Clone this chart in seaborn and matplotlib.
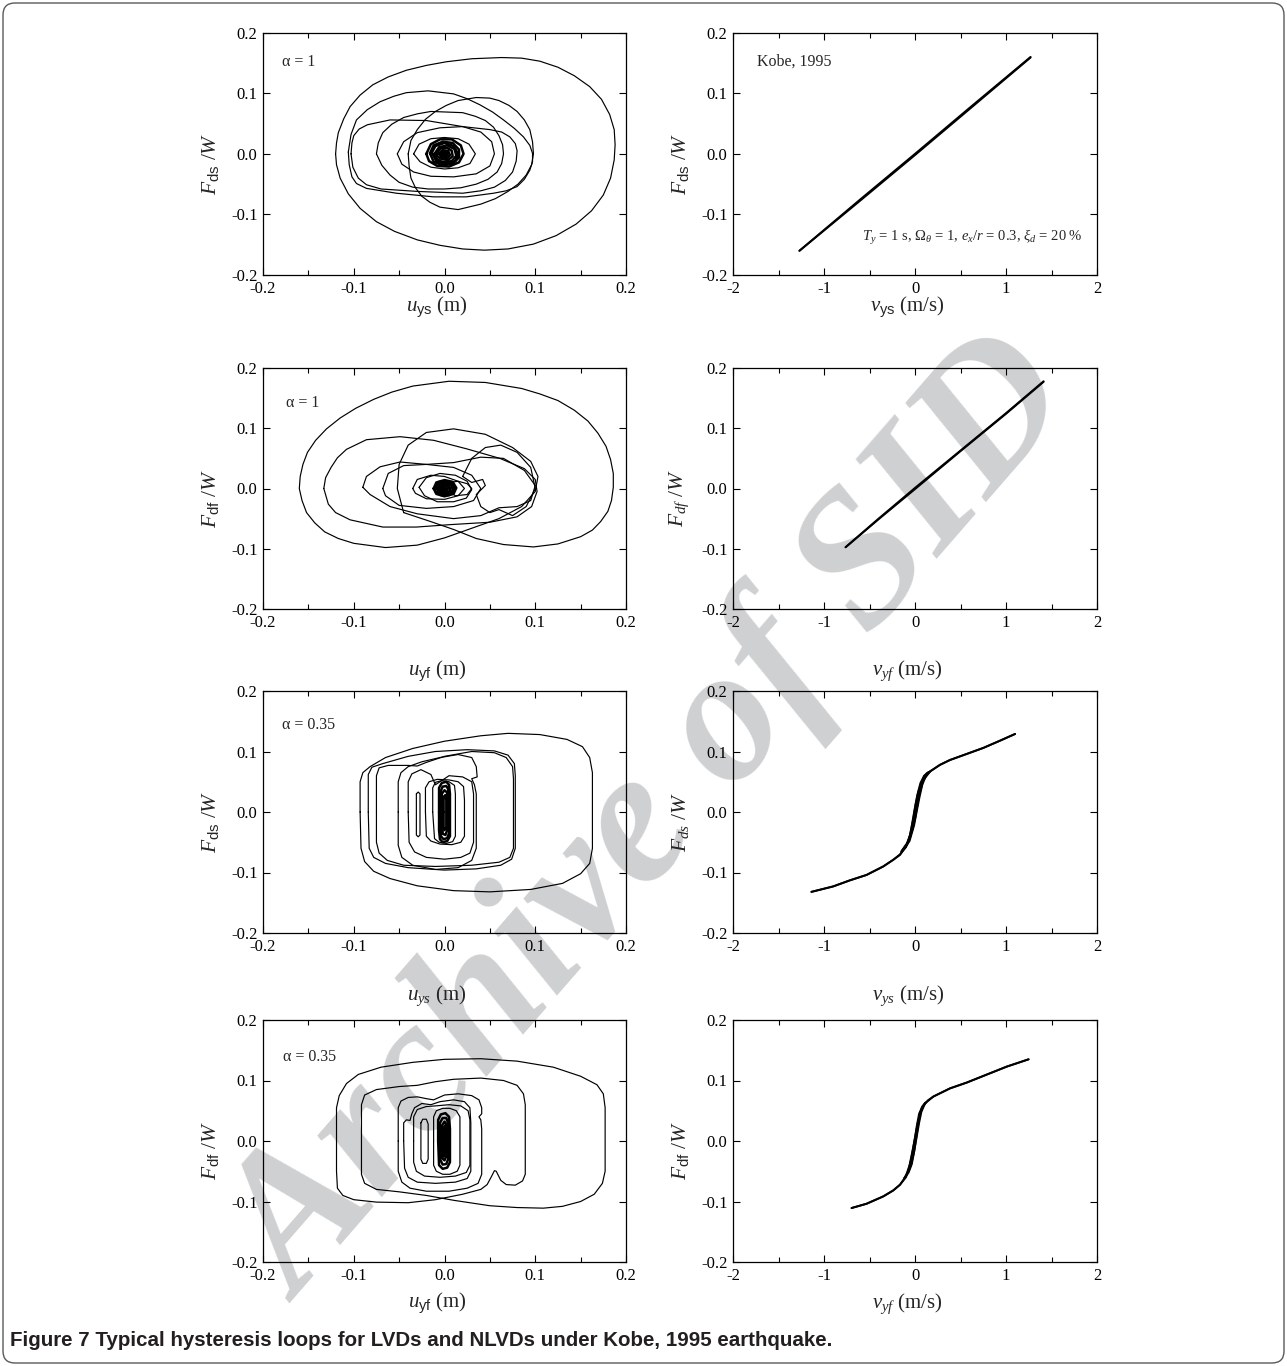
import matplotlib
matplotlib.use("Agg")
import matplotlib.pyplot as plt
import pandas as pd
import seaborn as sns
from matplotlib.patches import FancyBboxPatch
from matplotlib.transforms import IdentityTransform
from matplotlib.ticker import MultipleLocator

# ---------------- data ----------------
u_ticks = [-0.2, -0.1, 0.0, 0.1, 0.2]
u_tick_labels = ['-0.2', '-0.1', '0.0', '0.1', '0.2']
v_ticks = [-2, -1, 0, 1, 2]
v_tick_labels = ['-2', '-1', '0', '1', '2']
f_ticks = [-0.2, -0.1, 0.0, 0.1, 0.2]
f_tick_labels = ['-0.2', '-0.1', '0.0', '0.1', '0.2']

# Panel 1: LVD, alpha = 1, F_ds vs u_ys
p1_loops = [
    [(-0.120, 0.000), (-0.119, 0.018), (-0.117, 0.035), (-0.111, 0.058), (-0.104, 0.078), (-0.093, 0.097),
     (-0.079, 0.114), (-0.062, 0.127), (-0.042, 0.138), (-0.020, 0.146), (0.002, 0.152), (0.030, 0.157),
     (0.063, 0.159), (0.085, 0.158), (0.105, 0.153), (0.125, 0.143), (0.143, 0.129), (0.160, 0.111),
     (0.173, 0.090), (0.182, 0.065), (0.187, 0.040), (0.188, 0.015), (0.187, -0.010), (0.183, -0.040),
     (0.175, -0.068), (0.162, -0.094), (0.145, -0.116), (0.123, -0.135), (0.098, -0.149), (0.070, -0.157),
     (0.044, -0.159), (0.020, -0.157), (-0.005, -0.151), (-0.030, -0.142), (-0.055, -0.128), (-0.075, -0.112),
     (-0.093, -0.090), (-0.106, -0.066), (-0.115, -0.040), (-0.119, -0.018), (-0.120, 0.000)],
    [(-0.106, 0.003), (-0.103, 0.032), (-0.097, 0.056), (-0.085, 0.073), (-0.071, 0.086), (-0.056, 0.095),
     (-0.042, 0.101), (-0.018, 0.104), (0.010, 0.099), (0.025, 0.091), (0.039, 0.081), (0.053, 0.069),
     (0.065, 0.056), (0.077, 0.042), (0.087, 0.028), (0.094, 0.014), (0.097, 0.001), (0.097, -0.013),
     (0.094, -0.027), (0.088, -0.042), (0.080, -0.054), (0.068, -0.061), (0.054, -0.065), (0.024, -0.071),
     (-0.012, -0.071), (-0.053, -0.065), (-0.086, -0.057), (-0.097, -0.049), (-0.102, -0.038),
     (-0.105, -0.018), (-0.106, 0.003)],
    [(-0.040, 0.000), (-0.037, 0.022), (-0.030, 0.040), (-0.021, 0.057), (-0.010, 0.070), (0.002, 0.080),
     (0.015, 0.088), (0.035, 0.093), (0.050, 0.092), (0.060, 0.088), (0.071, 0.080), (0.080, 0.070),
     (0.088, 0.056), (0.094, 0.040), (0.097, 0.020), (0.098, 0.000), (0.096, -0.018), (0.090, -0.035),
     (0.081, -0.050), (0.070, -0.062), (0.056, -0.074), (0.040, -0.083), (0.015, -0.092), (-0.005, -0.088),
     (-0.016, -0.080), (-0.025, -0.070), (-0.032, -0.056), (-0.037, -0.040), (-0.039, -0.020), (-0.040, 0.000)],
    [(-0.103, 0.000), (-0.102, 0.018), (-0.100, 0.030), (-0.094, 0.041), (-0.085, 0.048), (-0.060, 0.056),
     (-0.020, 0.055), (0.020, 0.045), (0.050, 0.040), (0.063, 0.036), (0.072, 0.028), (0.078, 0.017),
     (0.080, 0.005), (0.079, -0.012), (0.075, -0.030), (0.067, -0.044), (0.055, -0.055), (0.040, -0.061),
     (0.020, -0.065), (-0.030, -0.062), (-0.070, -0.058), (-0.086, -0.051), (-0.095, -0.040), (-0.101, -0.022),
     (-0.103, 0.000)],
    [(-0.075, 0.000), (-0.073, 0.018), (-0.068, 0.035), (-0.058, 0.049), (-0.045, 0.060), (-0.030, 0.066),
     (-0.015, 0.070), (0.020, 0.068), (0.034, 0.062), (0.045, 0.055), (0.054, 0.044), (0.060, 0.030),
     (0.064, 0.015), (0.065, 0.000), (0.063, -0.016), (0.058, -0.030), (0.048, -0.042), (0.035, -0.050),
     (0.018, -0.056), (0.000, -0.058), (-0.018, -0.058), (-0.035, -0.055), (-0.050, -0.047), (-0.060, -0.035),
     (-0.069, -0.019), (-0.075, 0.000)],
    [(-0.052, 0.000), (-0.045, 0.020), (-0.030, 0.035), (-0.005, 0.043), (0.020, 0.045), (0.040, 0.036),
     (0.052, 0.020), (0.055, 0.000), (0.050, -0.020), (0.035, -0.033), (0.010, -0.038), (-0.015, -0.037),
     (-0.034, -0.030), (-0.047, -0.017), (-0.052, 0.000)],
    [(-0.034, 0.000), (-0.028, 0.016), (-0.015, 0.025), (0.000, 0.027), (0.015, 0.025), (0.027, 0.016),
     (0.034, 0.000), (0.028, -0.016), (0.015, -0.023), (0.000, -0.025), (-0.015, -0.022), (-0.027, -0.013),
     (-0.034, 0.000)],
]
p1_core = [
    [(-0.020, 0.000), (-0.015, 0.016), (-0.005, 0.024), (0.008, 0.024), (0.018, 0.014), (0.021, 0.000),
     (0.016, -0.014), (0.005, -0.021), (-0.008, -0.020), (-0.017, -0.012), (-0.020, 0.000)],
    [(-0.016, 0.001), (-0.012, 0.014), (-0.002, 0.020), (0.009, 0.018), (0.016, 0.007), (0.016, -0.006),
     (0.009, -0.016), (-0.002, -0.019), (-0.012, -0.013), (-0.016, 0.001)],
    [(-0.014, 0.002), (-0.010, 0.013), (0.000, 0.018), (0.010, 0.013), (0.015, 0.000), (0.012, -0.012),
     (0.002, -0.017), (-0.009, -0.012), (-0.014, 0.002)],
    [(-0.011, 0.000), (-0.006, 0.011), (0.003, 0.014), (0.011, 0.008), (0.013, -0.003), (0.008, -0.012),
     (-0.002, -0.014), (-0.009, -0.008), (-0.011, 0.000)],
    [(-0.008, 0.002), (-0.004, 0.009), (0.003, 0.010), (0.008, 0.005), (0.009, -0.004), (0.004, -0.010),
     (-0.003, -0.009), (-0.008, -0.004), (-0.008, 0.002)],
    [(-0.006, 0.000), (-0.002, 0.006), (0.004, 0.005), (0.006, -0.002), (0.003, -0.007), (-0.003, -0.006),
     (-0.006, 0.000)],
    [(-0.004, 0.001), (0.000, 0.004), (0.004, 0.001), (0.002, -0.004), (-0.003, -0.003), (-0.004, 0.001)],
    [(-0.002, 0.000), (0.000, 0.002), (0.002, 0.000), (0.000, -0.002), (-0.002, 0.000)],
]

# Panel 2: LVD, F_ds vs v_ys
p2_lines = [
    [(-1.270, -0.160), (-0.600, -0.075), (0.000, 0.000), (0.600, 0.076), (1.270, 0.160)],
    [(1.270, 0.159), (0.600, 0.074), (0.000, -0.002), (-0.600, -0.077), (-1.270, -0.160)],
]

# Panel 3: LVD, alpha = 1, F_df vs u_yf
p3_loops = [
    [(-0.045, -0.040), (-0.015, -0.055), (0.010, -0.068), (0.035, -0.083), (0.065, -0.093), (0.098, -0.097),
     (0.125, -0.092), (0.150, -0.080), (0.163, -0.069), (0.172, -0.055), (0.180, -0.038), (0.184, -0.020),
     (0.186, 0.002), (0.186, 0.025), (0.183, 0.048), (0.178, 0.070), (0.169, 0.092), (0.158, 0.112),
     (0.143, 0.130), (0.125, 0.146), (0.105, 0.157), (0.085, 0.166), (0.045, 0.176), (0.005, 0.178),
     (-0.035, 0.170), (-0.058, 0.160), (-0.078, 0.148), (-0.098, 0.133), (-0.115, 0.117), (-0.130, 0.099),
     (-0.142, 0.080), (-0.151, 0.060), (-0.156, 0.040), (-0.159, 0.020), (-0.160, 0.000), (-0.157, -0.020),
     (-0.152, -0.040), (-0.143, -0.057), (-0.132, -0.072), (-0.117, -0.083), (-0.100, -0.091), (-0.065, -0.098),
     (-0.030, -0.094), (0.000, -0.082), (0.030, -0.066), (0.060, -0.050), (0.085, -0.030), (0.100, -0.005),
     (0.103, 0.020), (0.095, 0.045), (0.075, 0.068), (0.045, 0.090), (0.010, 0.099), (-0.020, 0.093),
     (-0.040, 0.072), (-0.050, 0.040), (-0.052, 0.000), (-0.045, -0.040)],
    [(-0.133, 0.000), (-0.131, 0.018), (-0.125, 0.035), (-0.118, 0.051), (-0.108, 0.065), (-0.086, 0.081),
     (-0.049, 0.086), (-0.012, 0.080), (0.024, 0.066), (0.061, 0.050), (0.088, 0.033), (0.100, 0.015),
     (0.102, -0.005), (0.096, -0.030), (0.080, -0.047), (0.050, -0.056), (0.006, -0.060), (-0.031, -0.064),
     (-0.068, -0.064), (-0.104, -0.052), (-0.120, -0.040), (-0.128, -0.026), (-0.133, 0.000)],
    [(-0.090, 0.002), (-0.086, 0.020), (-0.071, 0.036), (-0.049, 0.044), (-0.020, 0.040), (0.010, 0.043),
     (0.040, 0.052), (0.065, 0.050), (0.088, 0.030), (0.100, 0.005), (0.095, -0.020), (0.080, -0.030),
     (0.060, -0.032), (0.040, -0.045), (0.010, -0.050), (-0.030, -0.042), (-0.060, -0.030), (-0.082, -0.010),
     (-0.090, 0.002)],
    [(-0.068, 0.000), (-0.062, 0.025), (-0.045, 0.038), (-0.020, 0.040), (0.010, 0.035), (0.030, 0.022),
     (0.040, 0.000), (0.032, -0.020), (0.010, -0.030), (-0.020, -0.033), (-0.050, -0.028), (-0.065, -0.012),
     (-0.068, 0.000)],
    [(0.020, 0.020), (0.030, 0.050), (0.045, 0.068), (0.062, 0.072), (0.080, 0.060), (0.095, 0.035),
     (0.100, 0.000), (0.090, -0.030), (0.075, -0.045), (0.060, -0.035), (0.050, -0.040), (0.040, -0.030),
     (0.035, -0.010), (0.045, 0.005), (0.042, 0.015), (0.030, 0.010), (0.020, 0.020)],
    [(-0.028, 0.002), (-0.020, 0.018), (-0.005, 0.025), (0.012, 0.022), (0.025, 0.012), (0.030, -0.002),
     (0.024, -0.016), (0.010, -0.022), (-0.008, -0.022), (-0.022, -0.012), (-0.028, 0.002)],
    [(-0.035, 0.000), (-0.030, 0.015), (-0.015, 0.022), (0.000, 0.020), (0.015, 0.012), (0.022, 0.000),
     (0.015, -0.012), (0.000, -0.018), (-0.020, -0.017), (-0.032, -0.008), (-0.035, 0.000)],
    [(0.005, 0.010), (0.015, 0.012), (0.025, 0.008), (0.030, 0.000), (0.025, -0.010), (0.012, -0.012),
     (0.005, -0.005)],
]
p3_core = [
    [(-0.012, 0.000), (-0.009, 0.010), (0.000, 0.014), (0.009, 0.011), (0.013, 0.001), (0.010, -0.009),
     (0.000, -0.013), (-0.009, -0.009), (-0.012, 0.000)],
    [(-0.010, 0.002), (-0.006, 0.011), (0.003, 0.012), (0.010, 0.006), (0.011, -0.004), (0.005, -0.011),
     (-0.004, -0.011), (-0.010, -0.005), (-0.010, 0.002)],
    [(-0.008, 0.000), (-0.005, 0.008), (0.002, 0.010), (0.008, 0.005), (0.009, -0.003), (0.004, -0.008),
     (-0.003, -0.009), (-0.007, -0.005), (-0.008, 0.000)],
    [(-0.006, 0.001), (-0.003, 0.006), (0.003, 0.007), (0.006, 0.002), (0.006, -0.004), (0.002, -0.007),
     (-0.003, -0.006), (-0.006, -0.002), (-0.006, 0.001)],
    [(-0.004, 0.000), (-0.002, 0.004), (0.002, 0.005), (0.004, 0.001), (0.003, -0.003), (0.000, -0.004),
     (-0.003, -0.003), (-0.004, 0.000)],
    [(-0.002, 0.000), (0.000, 0.002), (0.002, 0.000), (0.000, -0.002), (-0.002, 0.000)],
]

# Panel 4: LVD, F_df vs v_yf
p4_lines = [
    [(-0.763, -0.0975), (-0.400, -0.050), (0.000, 0.001), (0.500, 0.063), (1.000, 0.125), (1.413, 0.178)],
    [(1.413, 0.177), (1.000, 0.124), (0.500, 0.062), (0.000, -0.001), (-0.400, -0.051), (-0.763, -0.0975)],
]

# Panel 5: NLVD, alpha = 0.35, F_ds vs u_ys
p5_loops = [
    [(-0.093, 0.000), (-0.093, 0.050), (-0.090, 0.065), (-0.082, 0.075), (-0.065, 0.090), (-0.035, 0.105),
     (0.000, 0.117), (0.040, 0.126), (0.070, 0.130), (0.105, 0.128), (0.135, 0.120), (0.152, 0.108),
     (0.160, 0.090), (0.163, 0.065), (0.163, -0.060), (0.160, -0.085), (0.150, -0.102), (0.130, -0.118),
     (0.095, -0.128), (0.050, -0.132), (0.010, -0.130), (-0.030, -0.122), (-0.060, -0.110), (-0.078, -0.098),
     (-0.088, -0.082), (-0.092, -0.060), (-0.093, 0.000)],
    [(-0.084, 0.000), (-0.084, 0.062), (-0.080, 0.074), (-0.068, 0.080), (-0.040, 0.092), (-0.010, 0.100),
     (0.025, 0.103), (0.055, 0.101), (0.070, 0.094), (0.077, 0.080), (0.078, 0.060), (0.078, -0.060),
     (0.074, -0.078), (0.062, -0.088), (0.035, -0.094), (0.000, -0.096), (-0.040, -0.092), (-0.065, -0.085),
     (-0.078, -0.075), (-0.083, -0.060), (-0.084, 0.000)],
    [(-0.075, 0.000), (-0.075, 0.060), (-0.072, 0.073), (-0.062, 0.077), (-0.040, 0.077), (-0.030, 0.076),
     (-0.020, 0.082), (0.000, 0.092), (0.030, 0.100), (0.055, 0.098), (0.068, 0.090), (0.075, 0.075),
     (0.076, 0.055), (0.076, -0.060), (0.072, -0.075), (0.060, -0.083), (0.030, -0.088), (-0.010, -0.090),
     (-0.045, -0.088), (-0.063, -0.080), (-0.072, -0.068), (-0.075, -0.050), (-0.075, 0.000)],
    [(-0.051, 0.000), (-0.051, 0.050), (-0.048, 0.065), (-0.040, 0.075), (-0.025, 0.083), (-0.005, 0.090),
     (0.015, 0.095), (0.030, 0.090), (0.035, 0.075), (0.036, 0.058), (0.030, 0.055), (0.033, 0.045),
     (0.035, 0.030), (0.035, -0.060), (0.030, -0.080), (0.015, -0.092), (-0.010, -0.095), (-0.035, -0.088),
     (-0.047, -0.075), (-0.051, -0.055), (-0.051, 0.000)],
    [(-0.040, 0.000), (-0.040, 0.050), (-0.036, 0.063), (-0.026, 0.070), (-0.015, 0.062), (-0.010, 0.045),
     (-0.005, 0.050), (0.005, 0.060), (0.020, 0.058), (0.030, 0.050), (0.032, 0.030), (0.032, -0.050),
     (0.028, -0.068), (0.018, -0.075), (0.000, -0.078), (-0.020, -0.075), (-0.033, -0.066), (-0.039, -0.050),
     (-0.040, 0.000)],
    [(-0.031, 0.030), (-0.029, 0.033), (-0.027, 0.030), (-0.027, -0.038), (-0.029, -0.041), (-0.031, -0.038),
     (-0.031, 0.030)],
    [(-0.021, 0.000), (-0.021, 0.040), (-0.017, 0.050), (-0.008, 0.054), (0.005, 0.053), (0.015, 0.050),
     (0.021, 0.042), (0.022, 0.020), (0.022, -0.040), (0.018, -0.050), (0.008, -0.054), (-0.005, -0.053),
     (-0.015, -0.048), (-0.020, -0.040), (-0.021, 0.000)],
    [(-0.013, 0.000), (-0.013, 0.040), (-0.010, 0.049), (-0.003, 0.052), (0.005, 0.050), (0.011, 0.044),
     (0.012, 0.030), (0.012, -0.040), (0.009, -0.049), (0.002, -0.052), (-0.006, -0.050), (-0.011, -0.044),
     (-0.013, 0.000)],
]
p5_core = [
    [(-0.006, 0.000), (-0.006, 0.040), (-0.003, 0.048), (0.002, 0.050), (0.005, 0.045), (0.006, 0.030),
     (0.006, -0.040), (0.003, -0.048), (-0.002, -0.050), (-0.005, -0.045), (-0.006, -0.030), (-0.006, 0.000)],
    [(-0.004, 0.000), (-0.004, 0.035), (-0.002, 0.042), (0.002, 0.043), (0.004, 0.038), (0.005, 0.020),
     (0.005, -0.035), (0.003, -0.043), (-0.001, -0.045), (-0.004, -0.040), (-0.004, 0.000)],
    [(-0.003, 0.000), (-0.003, 0.030), (0.000, 0.036), (0.003, 0.032), (0.003, -0.030), (0.001, -0.038),
     (-0.002, -0.036), (-0.003, 0.000)],
    [(-0.001, 0.000), (-0.001, 0.025), (0.001, 0.028), (0.002, 0.020), (0.002, -0.025), (0.000, -0.030),
     (-0.001, -0.025), (-0.001, 0.000)],
]

# Panel 6: NLVD, F_ds vs v_ys
p6_lines = [
    [(-1.138, -0.132), (-0.899, -0.123), (-0.716, -0.113), (-0.532, -0.104), (-0.349, -0.090), (-0.239, -0.079),
     (-0.165, -0.070), (-0.100, -0.058), (-0.050, -0.040), (-0.020, -0.020), (0.010, 0.003), (0.040, 0.025),
     (0.090, 0.052), (0.165, 0.067), (0.275, 0.078), (0.385, 0.086), (0.569, 0.096), (0.752, 0.106),
     (0.936, 0.118), (1.100, 0.129)],
    [(1.100, 0.129), (0.936, 0.118), (0.752, 0.106), (0.569, 0.096), (0.385, 0.086), (0.275, 0.078),
     (0.165, 0.067), (0.120, 0.060), (0.080, 0.045), (0.050, 0.025), (0.020, 0.002), (-0.010, -0.022),
     (-0.060, -0.048), (-0.165, -0.071), (-0.239, -0.079), (-0.349, -0.090), (-0.532, -0.104), (-0.716, -0.113),
     (-0.899, -0.123), (-1.138, -0.132)],
    [(-0.150, -0.066), (-0.100, -0.058), (-0.065, -0.045), (-0.040, -0.028), (-0.015, -0.008), (0.010, 0.015),
     (0.040, 0.035), (0.080, 0.052), (0.130, 0.063), (0.165, 0.067)],
    [(0.160, 0.066), (0.130, 0.064), (0.100, 0.058), (0.070, 0.045), (0.045, 0.028), (0.020, 0.008),
     (-0.010, -0.015), (-0.045, -0.035), (-0.090, -0.052), (-0.150, -0.065)],
    [(-0.140, -0.064), (-0.085, -0.053), (-0.055, -0.038), (-0.030, -0.018), (-0.005, 0.004), (0.025, 0.028),
     (0.060, 0.048), (0.100, 0.060), (0.150, 0.066)],
    [(0.150, 0.066), (0.110, 0.060), (0.075, 0.048), (0.050, 0.032), (0.030, 0.015), (0.005, -0.008),
     (-0.030, -0.030), (-0.075, -0.050), (-0.140, -0.064)],
]

# Panel 7: NLVD, alpha = 0.35, F_df vs u_yf
p7_loops = [
    [(-0.119, 0.000), (-0.119, 0.055), (-0.116, 0.075), (-0.108, 0.095), (-0.095, 0.110), (-0.070, 0.122),
     (-0.035, 0.130), (0.000, 0.135), (0.040, 0.136), (0.080, 0.132), (0.120, 0.122), (0.150, 0.107),
     (0.168, 0.093), (0.175, 0.078), (0.177, 0.055), (0.177, -0.050), (0.174, -0.070), (0.165, -0.088),
     (0.150, -0.100), (0.130, -0.108), (0.109, -0.111), (0.080, -0.110), (0.050, -0.107), (0.010, -0.098),
     (-0.020, -0.090), (-0.050, -0.084), (-0.075, -0.080), (-0.088, -0.070), (-0.0915, -0.055),
     (-0.0915, 0.060), (-0.088, 0.076), (-0.075, 0.085), (-0.050, 0.090), (-0.030, 0.092), (-0.010, 0.098),
     (0.010, 0.102), (0.040, 0.104), (0.065, 0.100), (0.080, 0.092), (0.087, 0.078), (0.089, 0.060),
     (0.089, -0.055), (0.086, -0.066), (0.078, -0.073), (0.068, -0.072), (0.062, -0.065), (0.057, -0.050),
     (0.055, -0.049), (0.052, -0.058), (0.047, -0.072), (0.040, -0.080), (0.020, -0.088), (-0.010, -0.097),
     (-0.040, -0.102), (-0.075, -0.101), (-0.100, -0.097), (-0.112, -0.090), (-0.118, -0.078), (-0.119, -0.050),
     (-0.119, 0.000)],
    [(-0.051, 0.000), (-0.051, 0.055), (-0.048, 0.066), (-0.040, 0.072), (-0.030, 0.073), (-0.020, 0.070),
     (-0.012, 0.068), (0.000, 0.076), (0.015, 0.078), (0.030, 0.075), (0.038, 0.068), (0.041, 0.055),
     (0.041, 0.045), (0.038, 0.040), (0.040, 0.035), (0.041, 0.020), (0.041, -0.055), (0.037, -0.070),
     (0.025, -0.078), (0.005, -0.083), (-0.020, -0.083), (-0.038, -0.078), (-0.047, -0.068), (-0.051, -0.050),
     (-0.051, 0.000)],
    [(-0.045, 0.000), (-0.045, 0.030), (-0.042, 0.035), (-0.038, 0.034), (-0.036, 0.045), (-0.033, 0.055),
     (-0.025, 0.062), (-0.015, 0.060), (-0.005, 0.065), (0.010, 0.068), (0.022, 0.065), (0.028, 0.055),
     (0.029, 0.030), (0.029, -0.050), (0.025, -0.062), (0.012, -0.068), (-0.010, -0.070), (-0.030, -0.068),
     (-0.040, -0.060), (-0.044, -0.045), (-0.045, 0.000)],
    [(-0.034, 0.000), (-0.034, 0.040), (-0.030, 0.052), (-0.020, 0.057), (-0.010, 0.058), (0.005, 0.060),
     (0.018, 0.058), (0.026, 0.050), (0.028, 0.035), (0.028, -0.040), (0.024, -0.052), (0.012, -0.058),
     (-0.005, -0.060), (-0.022, -0.058), (-0.031, -0.050), (-0.034, -0.035), (-0.034, 0.000)],
    [(-0.026, 0.030), (-0.024, 0.036), (-0.020, 0.036), (-0.018, 0.028), (-0.018, -0.030), (-0.020, -0.037),
     (-0.024, -0.037), (-0.026, -0.030), (-0.026, 0.030)],
    [(-0.012, 0.000), (-0.012, 0.040), (-0.009, 0.050), (-0.002, 0.054), (0.006, 0.054), (0.013, 0.050),
     (0.017, 0.040), (0.017, -0.040), (0.014, -0.050), (0.006, -0.055), (-0.002, -0.055), (-0.009, -0.050),
     (-0.012, -0.040), (-0.012, 0.000)],
]
p7_core = [
    [(-0.007, 0.000), (-0.007, 0.035), (-0.004, 0.044), (0.001, 0.046), (0.005, 0.040), (0.006, 0.020),
     (0.006, -0.035), (0.003, -0.044), (-0.002, -0.046), (-0.006, -0.040), (-0.007, 0.000)],
    [(-0.005, 0.000), (-0.005, 0.030), (-0.002, 0.038), (0.002, 0.038), (0.004, 0.030), (0.004, -0.030),
     (0.002, -0.038), (-0.002, -0.039), (-0.005, -0.030), (-0.005, 0.000)],
    [(-0.003, 0.000), (-0.003, 0.025), (0.000, 0.032), (0.002, 0.028), (0.002, -0.025), (0.000, -0.032),
     (-0.003, -0.028), (-0.003, 0.000)],
    [(-0.001, 0.000), (-0.001, 0.022), (0.001, 0.026), (0.001, -0.022), (-0.001, -0.026), (-0.001, 0.000)],
]

# Panel 8: NLVD, F_df vs v_yf
p8_lines = [
    [(-0.697, -0.1108), (-0.532, -0.1037), (-0.349, -0.0916), (-0.239, -0.0817), (-0.165, -0.0723),
     (-0.100, -0.058), (-0.060, -0.040), (-0.030, -0.018), (0.000, 0.005), (0.030, 0.030), (0.060, 0.048),
     (0.092, 0.058), (0.140, 0.067), (0.202, 0.0735), (0.385, 0.087), (0.569, 0.0966), (0.752, 0.1076),
     (1.009, 0.123), (1.248, 0.135)],
    [(1.248, 0.135), (1.009, 0.123), (0.752, 0.1076), (0.569, 0.0966), (0.385, 0.087), (0.202, 0.0735),
     (0.110, 0.062), (0.070, 0.048), (0.045, 0.030), (0.020, 0.008), (-0.010, -0.018), (-0.045, -0.040),
     (-0.100, -0.060), (-0.165, -0.0723), (-0.239, -0.0817), (-0.349, -0.0916), (-0.532, -0.1037),
     (-0.697, -0.1108)],
    [(-0.120, -0.062), (-0.075, -0.050), (-0.045, -0.032), (-0.020, -0.012), (0.000, 0.006), (0.020, 0.025),
     (0.045, 0.045), (0.080, 0.057), (0.120, 0.064)],
    [(0.110, 0.063), (0.075, 0.055), (0.050, 0.040), (0.030, 0.022), (0.010, 0.002), (-0.010, -0.018),
     (-0.035, -0.038), (-0.070, -0.052), (-0.115, -0.061)],
]

# ---------------- style ----------------
sns.set_style("ticks")
plt.rcParams.update({
    "font.family": ["Liberation Serif", "DejaVu Serif"],
    "mathtext.fontset": "custom",
    "mathtext.rm": "Liberation Serif",
    "mathtext.it": "Liberation Serif:italic",
    "mathtext.bf": "Liberation Serif:bold",
    "mathtext.sf": "Liberation Sans",
    "axes.unicode_minus": False,
    "axes.edgecolor": "black",
    "axes.linewidth": 0.9,
    "xtick.color": "black",
    "ytick.color": "black",
    "lines.solid_joinstyle": "round",
})

W, H = 1287, 1366
fig = plt.figure(figsize=(W / 100, H / 100), dpi=100)
fig.patch.set_facecolor("white")

rows_px = [(32.7, 275.0), (368.0, 609.0), (691.0, 933.0), (1020.0, 1262.0)]
cols_px = [(263.0, 626.0), (733.0, 1097.0)]


def make_ax(r, c):
    (t, b), (l, rr) = rows_px[r], cols_px[c]
    return fig.add_axes([l / W, 1 - b / H, (rr - l) / W, (b - t) / H])


def to_df(loops):
    rows = []
    for i, lp in enumerate(loops):
        for j, (u, f) in enumerate(lp):
            rows.append((i, j, u, f))
    return pd.DataFrame(rows, columns=["loop", "order", "u", "f"])


def draw(ax, loops, lw):
    sns.lineplot(data=to_df(loops), x="u", y="f", units="loop", estimator=None,
                 sort=False, color="black", linewidth=lw, ax=ax, legend=False)


def style(ax, left_col, xlabel, ylabel, xlab_y):
    ax.set_facecolor("none")
    ax.set_ylim(-0.2, 0.2)
    ax.set_yticks(f_ticks)
    ax.set_yticklabels(f_tick_labels)
    if left_col:
        ax.set_xlim(-0.2, 0.2)
        ax.set_xticks(u_ticks)
        ax.set_xticklabels(u_tick_labels)
        ax.xaxis.set_minor_locator(MultipleLocator(0.05))
    else:
        ax.set_xlim(-2, 2)
        ax.set_xticks(v_ticks)
        ax.set_xticklabels(v_tick_labels)
        ax.xaxis.set_minor_locator(MultipleLocator(0.5))
    ax.tick_params(which="both", direction="in", top=True, right=True, width=0.8,
                   labelsize=12, colors="black")
    ax.tick_params(which="major", length=5, pad=4)
    ax.tick_params(which="minor", length=3.5)
    for s in ax.spines.values():
        s.set_visible(True)
        s.set_color("black")
        s.set_linewidth(0.9)
    ax.set_xlabel(xlabel, fontsize=15)
    ax.set_ylabel(ylabel, fontsize=15.5)
    ax.xaxis.set_label_coords(0.48, xlab_y)
    ax.yaxis.set_label_coords(-0.115, 0.46)


sub_sf = lambda s: r"_{\mathsf{" + s + "}}"

panels = [
    (0, 0, p1_loops, p1_core, r"$u" + sub_sf("ys") + r"$ (m)", r"$F" + sub_sf("ds") + r"$ /$W$", -0.08),
    (0, 1, p2_lines, None, r"$v" + sub_sf("ys") + r"$ (m/s)", r"$F" + sub_sf("ds") + r"$ /$W$", -0.08),
    (1, 0, p3_loops, p3_core, r"$u" + sub_sf("yf") + r"$ (m)", r"$F" + sub_sf("df") + r"$ /$W$", -0.205),
    (1, 1, p4_lines, None, r"$v_{yf}$ (m/s)", r"$F_{df}$ /$W$", -0.205),
    (2, 0, p5_loops, p5_core, r"$u_{ys}$ (m)", r"$F" + sub_sf("ds") + r"$ /$W$", -0.21),
    (2, 1, p6_lines, None, r"$v_{ys}$ (m/s)", r"$F_{ds}$ /$W$", -0.21),
    (3, 0, p7_loops, p7_core, r"$u" + sub_sf("yf") + r"$ (m)", r"$F" + sub_sf("df") + r"$ /$W$", -0.12),
    (3, 1, p8_lines, None, r"$v_{yf}$ (m/s)", r"$F" + sub_sf("df") + r"$ /$W$", -0.12),
]

axes = {}
for r, c, loops, core, xl, yl, xly in panels:
    ax = make_ax(r, c)
    axes[(r, c)] = ax
    if c == 0:
        draw(ax, loops, 0.85)
        draw(ax, core, 1.8)
    else:
        draw(ax, loops, 1.4)
    style(ax, c == 0, xl, yl, xly)

axes[(0, 0)].text(0.052, 0.88, "\u03b1 = 1", transform=axes[(0, 0)].transAxes, fontsize=11.5, va="center")
axes[(1, 0)].text(0.063, 0.855, "\u03b1 = 1", transform=axes[(1, 0)].transAxes, fontsize=11.5, va="center")
axes[(2, 0)].text(0.052, 0.86, "\u03b1 = 0.35", transform=axes[(2, 0)].transAxes, fontsize=11.5, va="center")
axes[(3, 0)].text(0.055, 0.847, "\u03b1 = 0.35", transform=axes[(3, 0)].transAxes, fontsize=11.5, va="center")
axes[(0, 1)].text(0.066, 0.88, "Kobe, 1995", transform=axes[(0, 1)].transAxes, fontsize=11.5, va="center")
axes[(0, 1)].text(0.96, 0.153,
                  r"$T_y$ = 1 s, $\Omega_\theta$ = 1, $e_x/r$ = 0.3, $\xi_d$ = 20 %",
                  transform=axes[(0, 1)].transAxes, fontsize=10.5, va="center", ha="right")

# watermark (behind the axes)
fig.text(655 / W, 1 - 822 / H, "Archive of SID", rotation=49, fontsize=138,
         family="Liberation Serif", style="italic", weight="bold", color="#cfd0d2",
         ha="center", va="center", zorder=-5, rotation_mode="anchor")

# caption
fig.text(10 / W, 1 - 1341 / H,
         "Figure 7 Typical hysteresis loops for LVDs and NLVDs under Kobe, 1995 earthquake.",
         family=["Liberation Sans", "DejaVu Sans"], weight="bold", fontsize=14.8,
         color="#231f20", ha="left", va="center")

# rounded frame
frame = FancyBboxPatch((3, 3), W - 6, H - 6, boxstyle="round,pad=0,rounding_size=12",
                       transform=IdentityTransform(), fill=False, edgecolor="#58595b", linewidth=1.0)
fig.add_artist(frame)

fig.savefig("out.png", dpi=100, facecolor="white")
